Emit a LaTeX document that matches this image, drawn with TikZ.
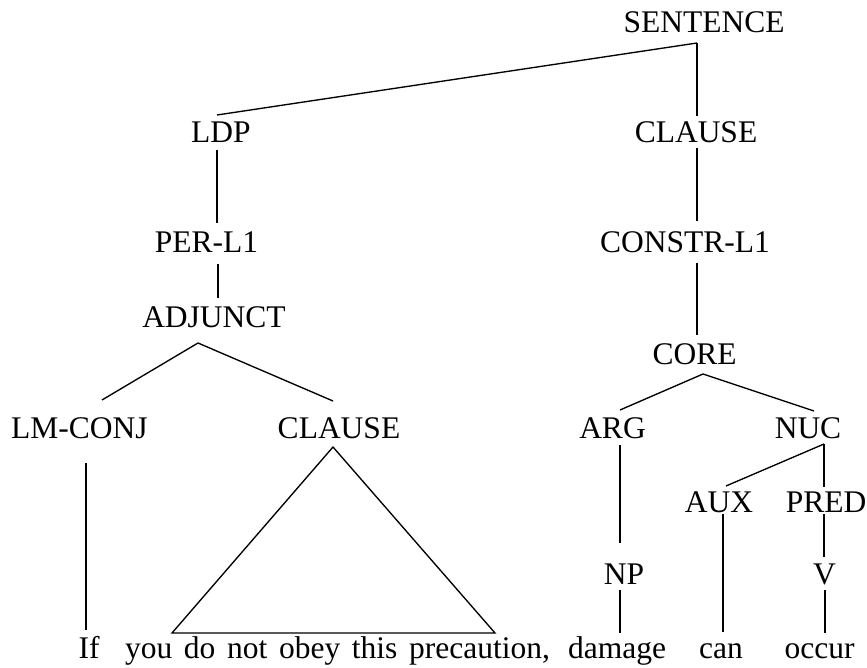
\documentclass[tikz,border=0pt]{standalone}
\usepackage{fontspec}
\setmainfont{Liberation Serif}
\usetikzlibrary{calc}
\begin{document}
\begin{tikzpicture}[x=1pt,y=-1pt,
  lab/.style={anchor=base,inner sep=0pt,outer sep=0pt,font=\fontsize{31.5}{36}\selectfont},
  edge/.style={line width=1.35pt,line cap=butt}]
\useasboundingbox (0,0) rectangle (867,668);
% nodes
\node[lab] (SENT) at (704,33) {SENTENCE};
\node[lab] (LDP) at (221,143) {LDP};
\node[lab] (CL1) at (696,143) {CLAUSE};
\node[lab] (PER) at (206.5,253) {PER-L1};
\node[lab] (CONSTR) at (685,253) {CONSTR-L1};
\node[lab] (ADJ) at (214,327) {ADJUNCT};
\node[lab] (CORE) at (694.5,364) {CORE};
\node[lab] (LMC) at (79.5,438) {LM-CONJ};
\node[lab] (CL2) at (339,438) {CLAUSE};
\node[lab] (ARG) at (612.5,438) {ARG};
\node[lab] (NUC) at (808,438) {NUC};
\node[lab] (AUX) at (719,512) {AUX};
\node[lab] (PRED) at (826,512) {PRED};
\node[lab] (NP) at (624,584) {NP};
\node[lab] (V) at (824.5,584) {V};
\node[lab] (IF) at (89,658) {If};
\node[lab] (YOU) at (337.5,658) {you\hspace{0.12em} do\hspace{0.12em} not\hspace{0.12em} obey\hspace{0.12em} this\hspace{0.12em} precaution,};
\node[lab] (DAM) at (617,658) {damage};
\node[lab] (CAN) at (721,658) {can};
\node[lab] (OCC) at (819.5,658) {occur};
% connectors
\draw[edge] ($(SENT.base)+(-7,10)$) -- ($(LDP.base)+(-4,-28)$);
\draw[edge] ($(SENT.base)+(-7,10)$) -- ($(CL1.base)+(1,-27)$);
\draw[edge] ($(LDP.base)+(-4,7)$) -- ($(PER.base)+(10.5,-30)$);
\draw[edge] ($(CL1.base)+(1,5)$) -- ($(CONSTR.base)+(12,-32)$);
\draw[edge] ($(PER.base)+(11.5,11)$) -- ($(ADJ.base)+(4,-29)$);
\draw[edge] ($(CONSTR.base)+(12,10)$) -- ($(CORE.base)+(2.5,-29)$);
\draw[edge] ($(ADJ.base)+(-16,16)$) -- ($(LMC.base)+(22.5,-38)$);
\draw[edge] ($(ADJ.base)+(-16,16)$) -- ($(CL2.base)+(-6,-37)$);
\draw[edge] ($(CORE.base)+(8.5,10)$) -- ($(ARG.base)+(7.5,-28)$);
\draw[edge] ($(CORE.base)+(8.5,10)$) -- ($(NUC.base)+(6,-27)$);
\draw[edge] ($(LMC.base)+(6.5,25)$) -- ($(IF.base)+(-3,-28)$);
\draw[edge,line join=miter] ($(CL2.base)+(-6,9)$) -- ($(YOU.base)+(-165.5,-25)$) -- ($(YOU.base)+(157.5,-25)$) -- cycle;
\draw[edge] ($(ARG.base)+(7.5,7)$) -- ($(NP.base)+(-4,-41)$);
\draw[edge] ($(NUC.base)+(16,6)$) -- ($(AUX.base)+(7,-26)$);
\draw[edge] ($(NUC.base)+(16,6)$) -- ($(PRED.base)+(-2,-25)$);
\draw[edge] ($(AUX.base)+(4,2)$) -- ($(CAN.base)+(2,-26)$);
\draw[edge] ($(PRED.base)+(-2,2)$) -- ($(V.base)+(-0.5,-27)$);
\draw[edge] ($(NP.base)+(-4,6)$) -- ($(DAM.base)+(3,-25)$);
\draw[edge] ($(V.base)+(0.5,6)$) -- ($(OCC.base)+(5.5,-25)$);
\end{tikzpicture}
\end{document}
